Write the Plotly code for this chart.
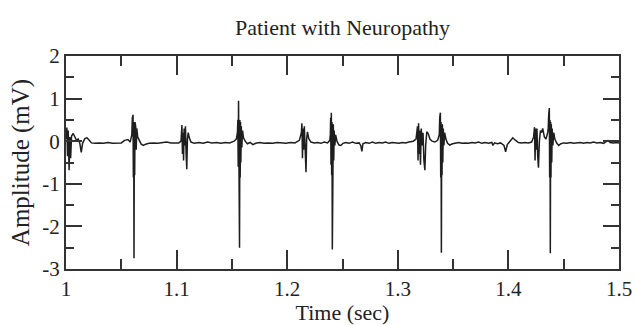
import plotly.graph_objects as go

time_s = [
    1.000, 1.0008, 1.0014, 1.002, 1.0028, 1.0035, 1.0042, 1.005, 1.0065, 1.008,
    1.0095, 1.011, 1.0125, 1.0138, 1.015, 1.017, 1.019, 1.021, 1.023, 1.026,
    1.030, 1.034, 1.038, 1.042, 1.046, 1.050, 1.053, 1.056, 1.058,
    1.0595, 1.0600, 1.0603, 1.0606, 1.0609, 1.0612, 1.0615, 1.0618, 1.0621, 1.0624,
    1.0627, 1.0630, 1.0635, 1.0640, 1.0648, 1.0660, 1.0680, 1.0700, 1.0720, 1.0750,
    1.0790, 1.0830, 1.0870, 1.0910, 1.0950, 1.0990, 1.1020, 1.1040,
    1.1048, 1.1053, 1.1058, 1.1063, 1.1068, 1.1073, 1.1080, 1.1086, 1.1092, 1.1098,
    1.1105, 1.1115, 1.1130, 1.1160, 1.1200, 1.1240, 1.1280, 1.1320, 1.1360, 1.1400,
    1.1440, 1.1480, 1.1520, 1.1540,
    1.1550, 1.1554, 1.1557, 1.1560, 1.1563, 1.1566, 1.1569, 1.1572, 1.1575, 1.1578,
    1.1581, 1.1585, 1.1590, 1.1596, 1.1605, 1.1620, 1.1640, 1.1665, 1.1690, 1.1715,
    1.1750, 1.1790, 1.1830, 1.1870, 1.1910, 1.1950, 1.1990, 1.2030, 1.2070, 1.2110,
    1.2128, 1.2133, 1.2138, 1.2143, 1.2148, 1.2155, 1.2162, 1.2170, 1.2176, 1.2183,
    1.2195, 1.2215, 1.2245, 1.2275, 1.2305, 1.2335, 1.2365, 1.2385,
    1.2390, 1.2393, 1.2396, 1.2399, 1.2402, 1.2405, 1.2408, 1.2411, 1.2414, 1.2417,
    1.2421, 1.2425, 1.2431, 1.2438, 1.2450, 1.2468, 1.2485, 1.2505, 1.2530, 1.2560,
    1.2590, 1.2620, 1.2650, 1.2665, 1.2675, 1.2685, 1.2710, 1.2740, 1.2770, 1.2800,
    1.2830, 1.2860, 1.2890, 1.2920, 1.2950, 1.2980, 1.3010, 1.3040, 1.3070, 1.3100,
    1.3140, 1.3165,
    1.3178, 1.3183, 1.3188, 1.3193, 1.3198, 1.3205, 1.3212, 1.3220, 1.3228, 1.3236,
    1.3245, 1.3252, 1.3262, 1.3275, 1.3290, 1.3310, 1.3335, 1.3360,
    1.3375, 1.3379, 1.3382, 1.3385, 1.3388, 1.3391, 1.3394, 1.3397, 1.3400, 1.3403,
    1.3407, 1.3411, 1.3417, 1.3424, 1.3435, 1.3450, 1.3470, 1.3495, 1.3520, 1.3550,
    1.3580, 1.3610, 1.3640, 1.3670, 1.3700, 1.3730, 1.3760, 1.3790, 1.3820, 1.3850,
    1.3860, 1.3875, 1.3900, 1.3930, 1.3960, 1.3975, 1.3990, 1.4020, 1.4040, 1.4060,
    1.4090, 1.4120, 1.4150, 1.4180, 1.4210,
    1.4228, 1.4236, 1.4241, 1.4246, 1.4251, 1.4258, 1.4265, 1.4272, 1.4280, 1.4290,
    1.4300, 1.4310, 1.4325, 1.4340, 1.4355,
    1.4360, 1.4364, 1.4367, 1.4370, 1.4373, 1.4376, 1.4379, 1.4382, 1.4385, 1.4388,
    1.4392, 1.4396, 1.4402, 1.4410, 1.4420, 1.4438, 1.4455, 1.4475, 1.4500, 1.4530,
    1.4560, 1.4590, 1.4620, 1.4650, 1.4680, 1.4710, 1.4740, 1.4770, 1.4800, 1.4830,
    1.4860, 1.4880, 1.4900, 1.4920, 1.4950, 1.4980, 1.5000,
]

amplitude_mv = [
    0.05, 0.32, -0.35, 0.25, -0.68, 0.10, -0.40, 0.12, 0.18, 0.10,
    0.02, 0.05, -0.05, -0.26, -0.05, 0.06, 0.08, 0.02, -0.04, -0.05,
    -0.04, -0.05, -0.03, -0.05, -0.04, -0.04, 0.02, 0.04, -0.02,
    0.15, 0.55, -0.50, 0.62, -0.85, 0.45, -2.75, 0.40, -0.80, 0.45,
    -0.55, 0.35, -0.20, 0.30, 0.10, 0.02, -0.07, -0.10, -0.07, -0.05,
    -0.04, -0.05, -0.03, -0.02, -0.04, -0.03, -0.04, 0.00,
    0.38, -0.30, 0.20, -0.45, 0.30, -0.10, 0.35, -0.30, -0.66, 0.05,
    0.20, 0.08, -0.02, -0.05, -0.03, -0.05, -0.02, -0.04, -0.03, -0.05,
    -0.03, -0.04, 0.00, 0.05,
    0.20, 0.50, -0.60, 0.95, -0.80, 0.55, -2.50, 0.50, -0.85, 0.45,
    -0.50, 0.35, -0.15, 0.25, 0.08, 0.00, -0.06, -0.03, -0.08, -0.05,
    -0.03, -0.05, -0.04, -0.05, -0.03, -0.04, -0.05, -0.03, -0.04, 0.02,
    0.20, 0.42, -0.40, 0.30, -0.20, 0.35, -0.30, -0.73, 0.05, 0.22,
    0.06, -0.02, -0.04, -0.03, -0.05, -0.02, -0.04, 0.02,
    0.15, 0.55, -0.55, 0.67, -0.80, 0.45, -2.54, 0.40, -0.75, 0.40,
    -0.45, 0.25, -0.10, 0.15, 0.00, -0.09, -0.10, -0.05, -0.03, -0.05,
    -0.02, -0.05, -0.04, -0.10, -0.24, -0.06, -0.03, -0.05, -0.02, -0.05,
    -0.03, -0.04, -0.02, -0.05, -0.03, -0.04, -0.05, -0.03, -0.04, -0.02,
    0.00, 0.05,
    0.35, -0.45, 0.42, -0.30, 0.25, -0.55, 0.30, -0.10, 0.20, -0.45,
    -0.68, -0.10, 0.22, 0.18, 0.05, 0.00, -0.02, 0.02,
    0.15, 0.55, -0.55, 0.67, -0.85, 0.45, -2.62, 0.40, -0.80, 0.40,
    -0.50, 0.30, -0.10, 0.20, 0.05, -0.05, -0.09, -0.06, -0.05, -0.03,
    -0.05, -0.04, -0.05, -0.03, -0.04, -0.02, -0.05, -0.03, -0.05, -0.03,
    -0.10, -0.04, -0.06, -0.04, -0.10, -0.25, -0.08, 0.02, 0.08, 0.03,
    -0.03, -0.04, -0.03, -0.04, -0.02,
    0.10, 0.33, -0.45, 0.30, -0.20, 0.30, -0.35, -0.62, 0.00, 0.25,
    0.20, 0.30, 0.10, 0.05, 0.20,
    0.30, 0.60, -0.55, 0.78, -0.85, 0.50, -2.63, 0.45, -0.85, 0.40,
    -0.50, 0.30, -0.10, 0.20, 0.05, -0.05, -0.10, -0.06, -0.04, -0.05,
    -0.03, -0.05, -0.04, -0.03, -0.05, -0.03, -0.04, -0.02, -0.04, -0.03,
    -0.05, -0.02, 0.02, -0.03, -0.04, -0.03, -0.04,
]

x_tick_vals = [1.0, 1.1, 1.2, 1.3, 1.4, 1.5]
x_tick_text = ["1", "1.1", "1.2", "1.3", "1.4", "1.5"]
y_tick_vals = [2, 1, 0, -1, -2, -3]
y_tick_text = ["2", "1", "0", "-1", "-2", "-3"]

title_text = "Patient with Neuropathy"
x_title = "Time (sec)"
y_title = "Amplitude (mV)"

font_family = "Liberation Serif, Times New Roman, serif"
axis_color = "#333333"
text_color = "#222222"

fig = go.Figure()
fig.add_trace(go.Scatter(
    x=time_s, y=amplitude_mv, mode="lines",
    line=dict(color="#1e1e1e", width=1.5),
    showlegend=False, hoverinfo="skip",
))

fig.update_layout(
    width=635, height=325,
    margin=dict(l=66, r=16, t=56, b=56, autoexpand=False),
    paper_bgcolor="white", plot_bgcolor="white",
    title=dict(text=title_text, x=0.5, xanchor="center", xref="paper",
               y=0.915, yanchor="middle",
               font=dict(family=font_family, size=22, color=text_color)),
    font=dict(family=font_family, color=text_color),
)

fig.update_xaxes(
    range=[1.0, 1.5], tickmode="array", tickvals=x_tick_vals, ticktext=x_tick_text,
    ticks="inside", ticklen=19, tickwidth=1.5, tickcolor=axis_color,
    minor=dict(tickmode="linear", tick0=1.05, dtick=0.1, ticks="inside",
               ticklen=10, tickwidth=1.5, tickcolor=axis_color, showgrid=False),
    showline=True, linewidth=2, linecolor=axis_color, mirror="ticks",
    showgrid=False, zeroline=False, automargin=False,
    tickfont=dict(family=font_family, size=21, color=text_color),
    title=dict(text=x_title, standoff=4,
               font=dict(family=font_family, size=22, color=text_color)),
)

fig.update_yaxes(
    range=[-3, 2], tickmode="array", tickvals=y_tick_vals, ticktext=y_tick_text,
    ticks="inside", ticklen=16, tickwidth=1.5, tickcolor=axis_color,
    minor=dict(tickmode="linear", tick0=-2.5, dtick=1, ticks="inside",
               ticklen=8, tickwidth=1.5, tickcolor=axis_color, showgrid=False),
    showline=True, linewidth=2, linecolor=axis_color, mirror="ticks",
    showgrid=False, zeroline=False, automargin=False,
    tickfont=dict(family=font_family, size=21, color=text_color),
    title=dict(text=y_title, standoff=6,
               font=dict(family=font_family, size=25, color=text_color)),
)

fig.write_html("out.html")
